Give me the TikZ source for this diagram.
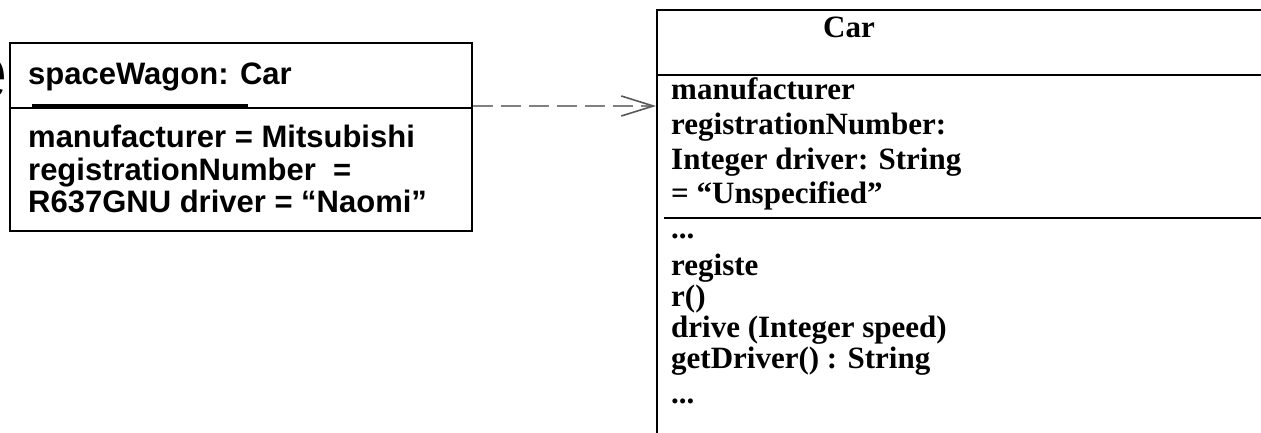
\documentclass[tikz,border=0pt]{standalone}
\usepackage{fontspec}
\setmainfont{Liberation Serif}
\setsansfont{Liberation Sans}
\usetikzlibrary{positioning, arrows.meta, calc}

\newcommand{\clsdots}{...}

\begin{document}
\begin{tikzpicture}[
    x=1pt, y=-1pt,
    objbox/.style={draw, rectangle, line width=1.6pt, inner sep=0pt},
    objtxt/.style={anchor=base west, inner sep=0pt, font=\fontsize{31}{32}\selectfont\sffamily\bfseries},
    clstxt/.style={anchor=base west, inner sep=0pt, font=\fontsize{31}{34}\selectfont\bfseries},
    sep/.style={line width=1.6pt},
    dep/.style={-{Straight Barb[length=32pt, width=20pt, line width=1.6pt, color=black!65]}, dash pattern=on 20pt off 8pt, line width=2pt, draw=gray},
]
\useasboundingbox (0,0) rectangle (1261,433);

% --- cut-off letter at the left edge ---
\node[anchor=base east, inner sep=0pt, font=\fontsize{80}{80}\selectfont\sffamily] (cut) at (8,100) {e};

% === LEFT: object spaceWagon ===
\node[objbox, minimum width=462pt, minimum height=188pt] (wagon) at (241,137) {};
\node[objtxt] (wagonname) at (28,85) {spaceWagon: Car};
\draw[line width=3pt] ($(wagonname.base west)+(4,21)$) -- ++(216,0);
\coordinate (wagonsep) at (0,108);
\draw[sep] (wagon.west |- wagonsep) -- (wagon.east |- wagonsep);

\node[objtxt] (wagonattr1) at (28,148) {manufacturer = Mitsubishi};
\node[objtxt] (wagonattr2) at (28,180) {registrationNumber \ =};
\node[objtxt] (wagonattr3) at (28,212) {R637GNU driver = “Naomi”};

% === RIGHT: class Car ===
\node[objbox, minimum width=650pt, minimum height=460pt, anchor=north west] (car) at (656,9) {};
\node[clstxt, anchor=base] (carname) at (849,38) {Car};
\coordinate (carsep1) at (0,75);
\coordinate (carsep2) at (664,218);
\draw[sep] (car.west |- carsep1) -- (car.east |- carsep1);
\draw[sep] (carsep2) -- (car.east |- carsep2);

% attributes
\foreach \y/\txt [count=\i] in {100/manufacturer, 135/registrationNumber:, 170/{Integer driver: String}, 203/{= “Unspecified”}}
    \node[clstxt] (carattr\i) at (671,\y) {\txt};

% operations
\foreach \y/\txt [count=\i] in {238/\clsdots, 275/registe, 306/r(), 337/{drive (Integer speed)}, 368/{getDriver() : String}, 403/\clsdots}
    \node[clstxt] (carop\i) at (671,\y) {\txt};

% --- instance-of dependency ---
\coordinate (deplevel) at (0,106);
\draw[dep] (wagon.east |- deplevel) -- (car.west |- deplevel);

\end{tikzpicture}
\end{document}
